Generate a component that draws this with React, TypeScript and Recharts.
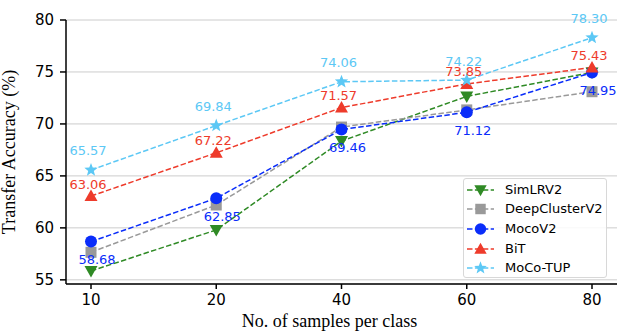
import React from "react";
import {
  LineChart,
  Line,
  XAxis,
  YAxis,
  CartesianGrid,
  LabelList,
  Label,
} from "recharts";

const categories = ["10", "20", "40", "60", "80"];
const simLRV2 = [55.85, 59.8, 68.35, 72.65, 74.95];
const deepClusterV2 = [57.65, 62.2, 69.7, 71.35, 73.1];
const mocoV2 = [58.68, 62.85, 69.46, 71.12, 74.95];
const bit = [63.06, 67.22, 71.57, 73.85, 75.43];
const mocoTup = [65.57, 69.84, 74.06, 74.22, 78.3];
const yTicks = [55, 60, 65, 70, 75, 80];

const data = categories.map((c, i) => ({
  samples: c,
  simLRV2: simLRV2[i],
  deepClusterV2: deepClusterV2[i],
  mocoV2: mocoV2[i],
  bit: bit[i],
  mocoTup: mocoTup[i],
}));

type Shape = "down" | "square" | "circle" | "up" | "star";

interface Series {
  key: string;
  name: string;
  color: string;
  shape: Shape;
  label?: "above" | "below";
  labelDy?: number;
}

const series: Series[] = [
  { key: "simLRV2", name: "SimLRV2", color: "#2f8a25", shape: "down" },
  { key: "deepClusterV2", name: "DeepClusterV2", color: "#999999", shape: "square" },
  { key: "mocoV2", name: "MocoV2", color: "#0a2dfa", shape: "circle", label: "below", labelDy: 18 },
  { key: "bit", name: "BiT", color: "#ee3b2b", shape: "up", label: "above", labelDy: -12 },
  { key: "mocoTup", name: "MoCo-TUP", color: "#5cc8f5", shape: "star", label: "above", labelDy: -19 },
];

const FONT = "'DejaVu Sans', sans-serif";
const SERIF = "'Liberation Serif', 'Times New Roman', serif";

function starPath(cx: number, cy: number, R: number) {
  const r = R * 0.42;
  const pts: string[] = [];
  for (let i = 0; i < 10; i++) {
    const rad = i % 2 === 0 ? R : r;
    const a = -Math.PI / 2 + (i * Math.PI) / 5;
    pts.push(`${cx + rad * Math.cos(a)},${cy + rad * Math.sin(a)}`);
  }
  return `M${pts.join("L")}Z`;
}

function Marker({ cx, cy, shape, color, s = 1 }: { cx: number; cy: number; shape: Shape; color: string; s?: number }) {
  switch (shape) {
    case "down":
      return <path d={`M${cx - 6.5 * s},${cy - 5 * s}L${cx + 6.5 * s},${cy - 5 * s}L${cx},${cy + 6.5 * s}Z`} fill={color} />;
    case "square":
      return <rect x={cx - 5.5 * s} y={cy - 5.5 * s} width={11 * s} height={11 * s} fill={color} />;
    case "circle":
      return <circle cx={cx} cy={cy} r={6 * s} fill={color} />;
    case "up":
      return <path d={`M${cx - 6.5 * s},${cy + 5 * s}L${cx + 6.5 * s},${cy + 5 * s}L${cx},${cy - 6.5 * s}Z`} fill={color} />;
    default:
      return <path d={starPath(cx, cy, 7 * s)} fill={color} />;
  }
}

function makeDot(shape: Shape, color: string) {
  return (props: any) => {
    const { cx, cy, index } = props;
    if (cx == null || cy == null) return <g key={index} />;
    return (
      <g key={index}>
        <Marker cx={cx} cy={cy} shape={shape} color={color} />
      </g>
    );
  };
}

function makeLabel(color: string, dy: number, dx: number) {
  return (props: any) => {
    const { x, y, value } = props;
    return (
      <text
        x={x + dx}
        y={y + dy}
        fill={color}
        fontSize={13}
        fontFamily={FONT}
        textAnchor="middle"
        dominantBaseline="central"
      >
        {Number(value).toFixed(2)}
      </text>
    );
  };
}

function LegendBox() {
  return (
    <div
      style={{
        position: "absolute",
        left: 463,
        top: 178,
        width: 144,
        height: 100,
        boxSizing: "border-box",
        background: "rgba(255,255,255,0.85)",
        border: "1px solid #d8d8d8",
        borderRadius: 3,
        paddingTop: 1,
      }}
    >
      {series.map((s) => (
        <div key={s.key} style={{ display: "flex", alignItems: "center", height: 19.6 }}>
          <svg width={41} height={18} style={{ display: "block" }}>
            <line x1={3} y1={9} x2={30} y2={9} stroke={s.color} strokeWidth={1.5} strokeDasharray="5.5 2.4" />
            <Marker cx={16.5} cy={9} shape={s.shape} color={s.color} s={0.95} />
          </svg>
          <span style={{ fontFamily: FONT, fontSize: 13, color: "#000", lineHeight: "18px" }}>{s.name}</span>
        </div>
      ))}
    </div>
  );
}

export default function App() {
  return (
    <div style={{ position: "absolute", left: 0, top: 0, width: 638, height: 334, background: "#fff" }}>
      <LineChart width={638} height={334} data={data} margin={{ top: 20, right: 21, bottom: 0, left: 0 }}>
        <CartesianGrid horizontal vertical={false} stroke="#cccccc" strokeWidth={1} />
        <XAxis
          dataKey="samples"
          padding={{ left: 25, right: 25 }}
          height={50}
          stroke="#000"
          strokeWidth={1.5}
          tickSize={5}
          tickMargin={5}
          tick={{ fill: "#000", fontSize: 15, fontFamily: FONT }}
        >
          <Label
            value="No. of samples per class"
            position="insideBottom"
            offset={7}
            dx={-12}
            style={{ fontFamily: SERIF, fontSize: 18, fill: "#000" }}
          />
        </XAxis>
        <YAxis
          type="number"
          domain={[54.6, 80]}
          ticks={yTicks}
          allowDataOverflow
          width={66}
          stroke="#000"
          strokeWidth={1.5}
          tickSize={6}
          tickMargin={6}
          tick={{ fill: "#000", fontSize: 15, fontFamily: FONT }}
        >
          <Label
            value="Transfer Accuracy (%)"
            angle={-90}
            position="insideLeft"
            offset={0}
            dx={9}
            style={{ textAnchor: "middle", fontFamily: SERIF, fontSize: 18, fill: "#000" }}
          />
        </YAxis>
        {series.map((s) => (
          <Line
            key={s.key}
            dataKey={s.key}
            name={s.name}
            type="linear"
            stroke={s.color}
            strokeWidth={1.5}
            strokeDasharray="5.5 2.4"
            dot={makeDot(s.shape, s.color)}
            activeDot={false}
            isAnimationActive={false}
          >
            {s.label && (
              <LabelList
                dataKey={s.key}
                content={makeLabel(s.color, s.labelDy ?? 0, s.label === "below" ? 6 : -3)}
              />
            )}
          </Line>
        ))}
      </LineChart>
      <LegendBox />
    </div>
  );
}
